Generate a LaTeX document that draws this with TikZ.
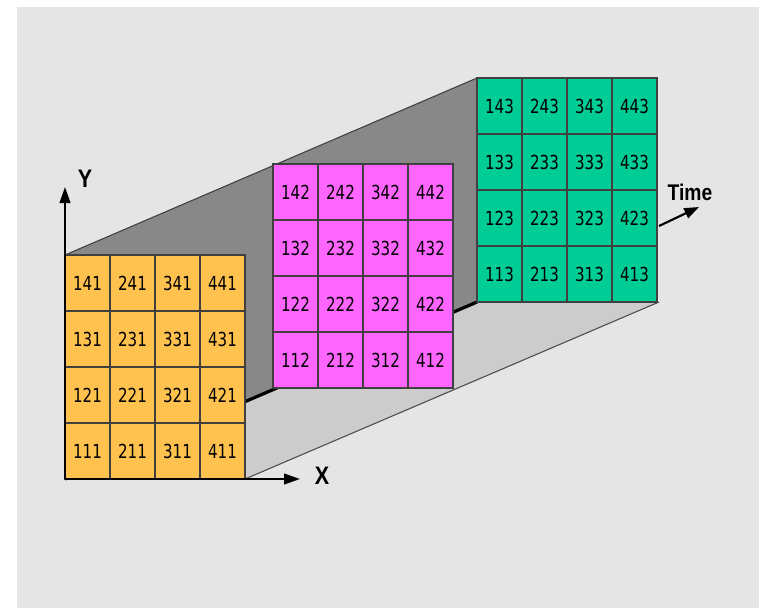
\documentclass[tikz,border=0pt]{standalone}
\usepackage{fontspec}
\setmainfont{Liberation Sans}
\newfontfamily\cellfont[FakeStretch=0.78]{DejaVu Sans}
\newfontfamily\axisfont[FakeStretch=0.85]{Liberation Sans}
\usetikzlibrary{arrows.meta}

\definecolor{orangecell}{RGB}{255,194,78}
\definecolor{magentacell}{RGB}{255,102,255}
\definecolor{greencell}{RGB}{0,204,150}
\definecolor{wallgray}{RGB}{136,136,136}
\definecolor{floorgray}{RGB}{204,204,204}

\begin{document}
\begin{tikzpicture}[x=0.75pt,y=-0.75pt,
                    cell/.style={draw=black!75,line width=0.8pt,minimum width=33.75pt,
                                 minimum height=42pt,inner sep=0pt,
                                 font=\cellfont\fontsize{14.5}{14.5}\selectfont},
                    axis/.style={line width=1.5pt,-{Triangle[length=12pt,width=8pt]}},
                    axislabel/.style={inner sep=0pt,font=\axisfont\bfseries\fontsize{19}{19}\selectfont}]
\useasboundingbox (0,0) rectangle (759,607);
\fill[top color=black!10,middle color=black!4,bottom color=black!10] (17,7) rectangle (759,607);

\coordinate (o) at (65,479);
\coordinate (wtop) at (65,255);
\coordinate (wback) at (477,78);
\coordinate (wfoot) at (477,302);
\coordinate (fright) at (659,302);
\coordinate (fnear) at (245,479);
\coordinate (ytip) at (65,187);
\coordinate (xtip) at (300,479);
\coordinate (tstart) at (659,226);
\coordinate (ttip) at (699,207);

\fill[floorgray] (o) -- (wfoot) -- (fright) -- (fnear) -- cycle;
\draw[black!70,line width=0.8pt] (fnear) -- (fright);
\fill[wallgray] (wtop) -- (wback) -- (wfoot) -- (o) -- cycle;
\draw[black!75,line width=0.8pt] (wtop) -- (wback);
\draw[line width=2.4pt] (o) -- (wfoot);

\foreach \k/\x/\y/\c in {3/477/78/greencell,2/273/164/magentacell,1/65/255/orangecell}
  \foreach \i in {1,...,4}
    \foreach \j in {1,...,4}
      \node[cell,fill=\c] (c\i\j\k) at ({\x+22.5+45*(\i-1)},{\y+196-56*(\j-1)}) {\i\j\k};

\draw[axis] (o) -- (ytip);
\draw[axis] (o) -- (xtip);
\draw[line width=1.6pt,-{Triangle[length=11pt,width=8pt]}] (tstart) -- (ttip);

\node[axislabel] (ylab) at (85,179) {Y};
\node[axislabel] (xlab) at (322,476) {X};
\node[axislabel,font=\axisfont\bfseries\fontsize{17}{17}\selectfont] (tlab) at (690,192) {Time};
\end{tikzpicture}
\end{document}
